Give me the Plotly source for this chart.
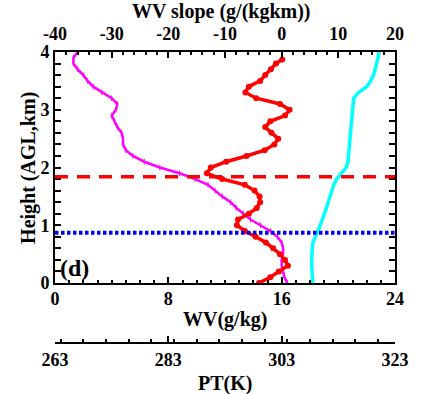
import plotly.graph_objects as go

# Heights (km AGL)
h_wv = [0.0, 0.1, 0.2, 0.3, 0.4, 0.5, 0.6, 0.7, 0.8, 0.9, 1.0, 1.1, 1.2, 1.3, 1.4, 1.5, 1.6, 1.7, 1.8, 1.9,
        2.0, 2.1, 2.2, 2.3, 2.4, 2.5, 2.6, 2.7, 2.8, 2.9, 3.0, 3.1, 3.2, 3.3, 3.4, 3.5, 3.6, 3.7, 3.8, 3.9, 4.0]
# Water vapour mixing ratio (g/kg) - magenta
wv = [16.4, 16.2, 16.1, 16.0, 16.0, 16.1, 16.1, 16.0, 15.7, 15.2, 14.5, 13.8, 13.3, 12.8, 12.4, 11.8, 11.3, 10.8, 9.9, 8.8,
      7.4, 6.3, 5.5, 5.0, 4.8, 4.8, 4.7, 4.4, 4.2, 4.0, 4.3, 4.4, 4.0, 3.3, 2.7, 2.3, 2.0, 1.6, 1.3, 1.3, 1.6]
# Potential temperature (K) - cyan
pt = [308.5, 308.4, 308.4, 308.3, 308.3, 308.3, 308.4, 308.5, 309.0, 309.4, 309.8, 310.2, 310.6, 310.9, 311.2, 311.5,
      311.9, 312.2, 312.7, 313.5, 314.4, 314.7, 314.8, 314.9, 315.0, 315.0, 315.1, 315.2, 315.3, 315.4, 315.5, 315.6,
      315.7, 316.6, 318.0, 318.7, 319.2, 319.5, 319.8, 320.0, 320.2]
# WV slope (g/(kg km)) - red
h_slope = [0.0, 0.1, 0.2, 0.3, 0.4, 0.5, 0.6, 0.7, 0.8, 0.9, 1.0, 1.1, 1.2, 1.3, 1.4, 1.5, 1.6, 1.7, 1.8, 1.9,
           2.0, 2.1, 2.2, 2.3, 2.4, 2.5, 2.6, 2.7, 2.8, 2.9, 3.0, 3.1, 3.2, 3.3, 3.4, 3.5, 3.6, 3.7, 3.8, 3.87]
slope = [-4.0, -2.0, -0.5, 1.1, 0.6, -0.3, -1.5, -2.8, -4.6, -6.5, -7.9, -7.7, -5.8, -4.4, -3.8, -3.9, -4.8, -6.5, -10.5, -13.2,
         -12.5, -9.8, -6.2, -3.0, -1.3, -0.6, -1.8, -2.9, -2.0, 0.6, 1.4, -0.3, -4.5, -6.4, -5.8, -3.8, -2.9, -1.9, -1.0, 0.1]
# Reference heights (km)
h_red_line = 1.84
h_blue_line = 0.87

FONT = "Liberation Serif"
tickfont = dict(family=FONT, size=18, color="black")
titlefont = dict(family=FONT, size=20, color="black")

fig = go.Figure()
fig.add_trace(go.Scatter(x=wv, y=h_wv, xaxis="x", yaxis="y", mode="lines+markers",
                         line=dict(color="#ff00ff", width=2.5),
                         marker=dict(symbol="line-ns", size=4, line=dict(color="#ff00ff", width=1)),
                         showlegend=False))
fig.add_trace(go.Scatter(x=pt, y=h_wv, xaxis="x3", yaxis="y", mode="lines",
                         line=dict(color="#00ffff", width=3.5), showlegend=False))
fig.add_trace(go.Scatter(x=slope, y=h_slope, xaxis="x2", yaxis="y", mode="lines+markers",
                         line=dict(color="#ff0000", width=3.5),
                         marker=dict(symbol="circle", size=6, color="#ff0000"),
                         showlegend=False))

fig.add_shape(type="line", xref="x domain", yref="y", x0=0, x1=1, y0=h_red_line, y1=h_red_line,
              line=dict(color="#ff0000", width=3.5, dash="13px,9px"))
fig.add_shape(type="line", xref="x domain", yref="y", x0=0, x1=1, y0=h_blue_line, y1=h_blue_line,
              line=dict(color="#0000ee", width=4, dash="3.5px,2.5px"))

fig.add_annotation(x=0.01, y=0.0, xref="x domain", yref="y domain", text="<b>(d)</b>", showarrow=False,
                   xanchor="left", yanchor="bottom", font=dict(family=FONT, size=24, color="black"))

# axis titles as annotations (paper coords: plot area spans x 0..1, y 0..1 of the margin box)
fig.add_annotation(x=0.491, y=1.13, xref="paper", yref="paper", text="<b>WV slope (g/(kgkm))</b>",
                   showarrow=False, xanchor="center", yanchor="middle", font=titlefont)
fig.add_annotation(x=0.50, y=0.13, xref="paper", yref="paper", text="<b>WV(g/kg)</b>",
                   showarrow=False, xanchor="center", yanchor="middle", font=titlefont)
fig.add_annotation(x=0.50, y=-0.075, xref="paper", yref="paper", text="<b>PT(K)</b>",
                   showarrow=False, xanchor="center", yanchor="middle", font=titlefont)
fig.add_annotation(x=-0.08, y=0.623, xref="paper", yref="paper", text="<b>Height (AGL,km)</b>", textangle=-90,
                   showarrow=False, xanchor="center", yanchor="middle", font=titlefont)

common = dict(showline=True, linecolor="black", linewidth=2, ticks="inside", ticklen=6, tickwidth=1.5,
              tickcolor="black", showgrid=False, zeroline=False, tickfont=tickfont, automargin=False)

fig.update_layout(
    width=421, height=394,
    margin=dict(l=55, r=26, t=52, b=34),
    paper_bgcolor="white", plot_bgcolor="white",
    xaxis=dict(range=[0, 24], tickvals=[0, 8, 16, 24], ticktext=["<b>0</b>", "<b>8</b>", "<b>16</b>", "<b>24</b>"],
               minor=dict(dtick=1, ticks="inside", ticklen=3, tickcolor="black", tickwidth=1.5),
               ticklabelstandoff=-2,
               anchor="y", side="bottom", **common),
    xaxis2=dict(range=[-40, 20], tickvals=[-40, -30, -20, -10, 0, 10, 20],
                ticktext=["<b>-40</b>", "<b>-30</b>", "<b>-20</b>", "<b>-10</b>", "<b>0</b>", "<b>10</b>", "<b>20</b>"],
                minor=dict(dtick=2, ticks="inside", ticklen=3, tickcolor="black", tickwidth=1.5),
                ticklabelstandoff=3,
                overlaying="x", anchor="y", side="top", **common),
    xaxis3=dict(range=[263, 323], tickvals=[263, 283, 303, 323],
                ticktext=["<b>263</b>", "<b>283</b>", "<b>303</b>", "<b>323</b>"],
                minor=dict(dtick=4, ticks="inside", ticklen=3, tickcolor="black", tickwidth=1.5),
                overlaying="x", anchor="free", position=0.055, side="bottom", **common),
    yaxis=dict(range=[0, 4], domain=[0.25, 1], tickvals=[0, 1, 2, 3, 4],
               ticktext=["<b>0</b>", "<b>1</b>", "<b>2</b>", "<b>3</b>", "<b>4</b>"],
               minor=dict(dtick=0.2, ticks="inside", ticklen=3, tickcolor="black", tickwidth=1.5),
               mirror="allticks", **common),
)

fig.write_html("out.html", config={"displayModeBar": False},
               post_script="document.body.style.margin='0px';document.body.style.overflow='hidden';")
